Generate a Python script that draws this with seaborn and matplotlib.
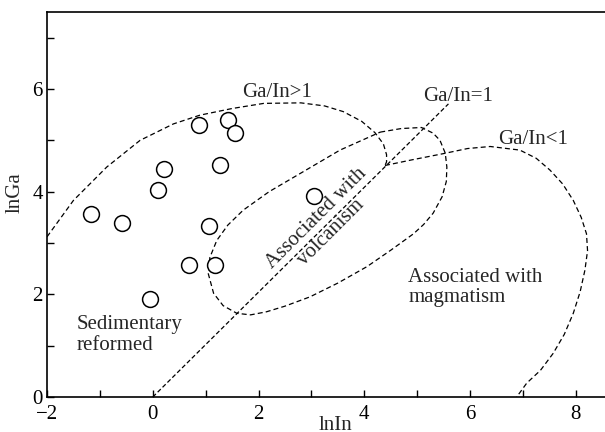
import numpy as np
import pandas as pd
import seaborn as sns
import matplotlib.pyplot as plt
from matplotlib.ticker import MultipleLocator

# sample points (lnIn, lnGa)
ln_in = [-1.17, -0.59, -0.06, 0.09, 0.21, 0.69, 0.88, 1.06, 1.18, 1.28, 1.42, 1.56, 3.04]
ln_ga = [3.57, 3.38, 1.91, 4.03, 4.44, 2.58, 5.29, 3.33, 2.57, 4.51, 5.39, 5.14, 3.92]

# Ga/In = 1 line
ratio_line_x = [0.0, 5.59]
ratio_line_y = [0.0, 5.71]

# Ga/In > 1 field boundary
gt_x = [-2.0, -1.5, -0.87, -0.24, 0.39, 0.89, 1.5, 2.1, 2.8, 3.25, 3.6, 3.95, 4.2, 4.36, 4.42, 4.42, 4.39]
gt_y = [3.12, 3.83, 4.48, 5.0, 5.32, 5.49, 5.62, 5.72, 5.73, 5.67, 5.56, 5.37, 5.15, 4.93, 4.72, 4.58, 4.51]

# volcanism field (closed)
volc_x = [4.30, 4.70, 5.08, 5.30, 5.43, 5.53, 5.56, 5.55, 5.47, 5.30, 5.12, 4.93, 4.50, 4.05, 3.50,
          2.97, 2.50, 2.15, 1.85, 1.59, 1.33, 1.15, 1.05, 1.08, 1.21, 1.42, 1.71, 2.20, 2.78, 3.54, 4.30]
volc_y = [5.16, 5.23, 5.25, 5.14, 5.00, 4.75, 4.48, 4.20, 3.90, 3.58, 3.36, 3.18, 2.86, 2.54, 2.22,
          1.95, 1.77, 1.66, 1.60, 1.63, 1.78, 2.02, 2.40, 2.72, 3.05, 3.35, 3.64, 4.00, 4.35, 4.81, 5.16]

# Ga/In < 1 field boundary
lt_x = [4.39, 4.9, 5.49, 5.95, 6.38, 6.94, 7.25, 7.51, 7.75, 7.95, 8.1, 8.2, 8.22, 8.17, 8.08, 7.95,
        7.78, 7.57, 7.33, 7.07, 6.88]
lt_y = [4.51, 4.62, 4.74, 4.84, 4.88, 4.81, 4.65, 4.42, 4.15, 3.83, 3.5, 3.18, 2.85, 2.47, 2.05, 1.63,
        1.22, 0.85, 0.52, 0.27, 0.0]

df = pd.DataFrame({"lnIn": ln_in, "lnGa": ln_ga})

sns.set_theme(style="ticks")
plt.rcParams['font.family'] = ['Liberation Serif', 'DejaVu Serif']
plt.rcParams['font.size'] = 15

fig = plt.figure(figsize=(6.05, 4.32), dpi=100)
ax = fig.add_axes([47 / 605, 1 - 397 / 432, 558 / 605, 385 / 432])

dash = dict(color="black", lw=0.9, ls=(0, (4, 2.5)))
ax.plot(gt_x, gt_y, **dash)
ax.plot(volc_x, volc_y, **dash)
ax.plot(lt_x, lt_y, **dash)
ax.plot(ratio_line_x, ratio_line_y, color="black", lw=0.9, ls=(0, (3.5, 2)))

sns.scatterplot(data=df, x="lnIn", y="lnGa", ax=ax, s=130, marker="o",
                facecolor="white", edgecolor="black", linewidth=1.1, zorder=3)

ax.set_xlim(-2, 8.55)
ax.set_ylim(0, 7.5)
ax.xaxis.set_major_locator(MultipleLocator(2))
ax.xaxis.set_minor_locator(MultipleLocator(1))
ax.yaxis.set_major_locator(MultipleLocator(2))
ax.yaxis.set_minor_locator(MultipleLocator(1))
ax.tick_params(which="both", direction="in", length=5, width=1, colors="black",
               labelsize=15)
ax.tick_params(axis="x", pad=6)
ax.tick_params(axis="y", pad=3)
for s in ["left", "bottom", "top"]:
    ax.spines[s].set_linewidth(1.2)
    ax.spines[s].set_color("black")
ax.spines["right"].set_visible(False)

# the "0" on the y axis sits on the x axis line
ax.yaxis.get_major_ticks()[0].label1.set_va("baseline")

ax.set_xlabel("lnIn", fontsize=15)
ax.set_ylabel("lnGa", fontsize=15)
ax.xaxis.set_label_coords(0.517, -0.05)
ax.yaxis.set_label_coords(-0.04, 0.53)

ax.text(1.69, 5.94, "Ga/In>1", ha="left", va="center", fontsize=15)
ax.text(5.11, 5.85, "Ga/In=1", ha="left", va="center", fontsize=15)
ax.text(6.53, 5.02, "Ga/In<1", ha="left", va="center", fontsize=15)
ax.text(4.83, 2.13, "Associated with\nmagmatism", ha="left", va="center",
        fontsize=15, linespacing=1.1)
ax.text(-1.44, 1.21, "Sedimentary\nreformed", ha="left", va="center",
        fontsize=15, linespacing=1.1)
ax.text(3.23, 3.34, "Associated with\nvolcanism", ha="center", va="center",
        rotation=45, rotation_mode="anchor", multialignment="center",
        fontsize=15, linespacing=1.1)

fig.savefig("out.png", dpi=100)
